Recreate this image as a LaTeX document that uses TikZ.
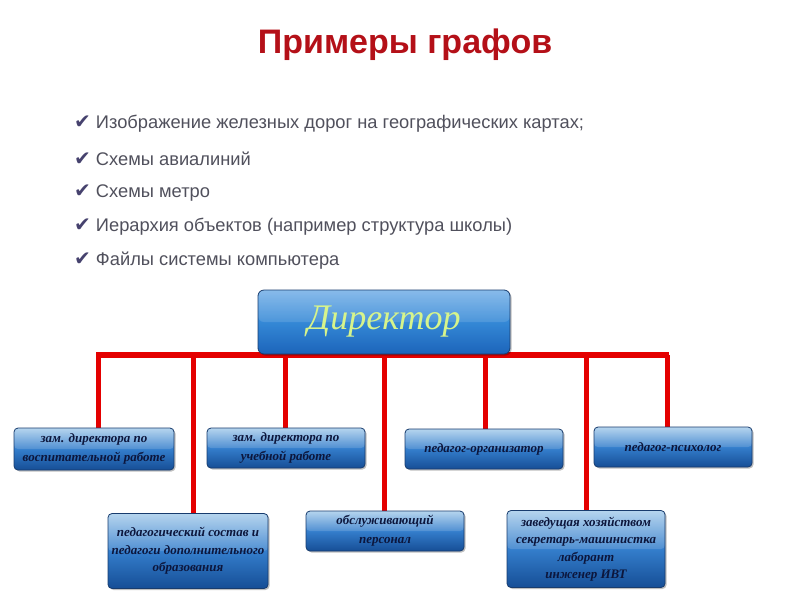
\documentclass[tikz,border=0pt]{standalone}
\usepackage{fontspec}
\setmainfont{Liberation Sans}
\newfontfamily\boxfont{Liberation Serif}
\newfontfamily\checkfont{DejaVu Sans}
\usetikzlibrary{shadows,backgrounds}
\definecolor{titlered}{RGB}{180,16,24}
\definecolor{listtext}{RGB}{80,80,92}
\definecolor{checkcol}{RGB}{70,66,110}
\definecolor{linered}{RGB}{228,0,0}
\definecolor{boxtop}{RGB}{170,206,236}
\definecolor{boxmid}{RGB}{52,126,204}
\definecolor{boxbot}{RGB}{22,78,150}
\definecolor{boxedge}{RGB}{24,60,110}
\definecolor{boxtext}{RGB}{12,22,60}
\definecolor{dirtop}{RGB}{120,178,232}
\definecolor{dirmid}{RGB}{52,136,214}
\definecolor{dirbot}{RGB}{28,100,186}
\definecolor{dirtext}{RGB}{214,244,140}
\tikzset{
  orgbox/.style={rounded corners=4pt, draw=boxedge, line width=0.8pt,
    top color=boxtop, bottom color=boxbot, middle color=boxmid,
    drop shadow={shadow xshift=1.5pt, shadow yshift=-1.5pt, fill=black, opacity=0.25},
    align=center, inner sep=0pt, text=boxtext,
    font=\boxfont\bfseries\itshape\fontsize{13}{19}\selectfont,
    path picture={\fill[white,opacity=0.14] (path picture bounding box.north west) rectangle (path picture bounding box.east);}},
  tallbox/.style={orgbox, font=\boxfont\bfseries\itshape\fontsize{13}{17.5}\selectfont},
  dirbox/.style={rounded corners=6pt, draw=boxedge, line width=0.8pt,
    top color=dirtop, bottom color=dirbot, middle color=dirmid,
    drop shadow={shadow xshift=1.5pt, shadow yshift=-1.5pt, fill=black, opacity=0.25},
    inner sep=0pt, text=dirtext, minimum width=252pt, minimum height=64pt,
    font=\boxfont\itshape\fontsize{36}{40}\selectfont,
    path picture={\fill[white,opacity=0.12] (path picture bounding box.north west) rectangle (path picture bounding box.east);}},
  redline/.style={draw=linered, line width=5pt},
  listitem/.style={anchor=west, inner sep=0pt, text=listtext, font=\fontsize{18.3}{20}\selectfont},
}
\newcommand{\chk}{{\checkfont\color{checkcol}\fontsize{20}{20}\selectfont ✔}\hspace{5pt}}
\begin{document}
\begin{tikzpicture}[x=1pt,y=-1pt]
\useasboundingbox (0,0) rectangle (800,600);

\node[font=\bfseries\fontsize{34}{36}\selectfont, text=titlered] (title) at (405,45) {Примеры графов};

\node[listitem] (l1) at (74,124) {\chk Изображение железных дорог на географических картах;};
\node[listitem] (l2) at (74,159) {\chk Схемы авиалиний};
\node[listitem] (l3) at (74,193) {\chk Схемы метро};
\node[listitem] (l4) at (74,227) {\chk Иерархия объектов (например структура школы)};
\node[listitem] (l5) at (74,261) {\chk Файлы системы компьютера};

\node[dirbox] (dir) at (384,322) {Директор};

\node[orgbox, minimum width=160pt, minimum height=42pt] (b1) at (94,449) {зам. директора по\\воспитательной работе};
\node[orgbox, minimum width=158pt, minimum height=40pt] (b2) at (286,448) {зам. директора по\\учебной работе};
\node[orgbox, minimum width=158pt, minimum height=40pt] (b3) at (484,449) {педагог-организатор};
\node[orgbox, minimum width=158pt, minimum height=40pt] (b4) at (673,447) {педагог-психолог};
\node[tallbox, minimum width=160pt, minimum height=75pt] (b5) at (188,551) {педагогический состав и\\педагоги дополнительного\\образования};
\node[orgbox, minimum width=158pt, minimum height=40pt] (b6) at (385,531) {обслуживающий\\персонал};
\node[tallbox, minimum width=158pt, minimum height=77pt] (b7) at (586,549) {заведущая хозяйством\\секретарь-машинистка\\лаборант\\инженер ИВТ};

\coordinate (bl) at (96,355);
\coordinate (br) at (669,355);
\coordinate (v1) at (98,355);
\coordinate (v2) at (193,355);
\coordinate (v3) at (285,355);
\coordinate (v4) at (384,355);
\coordinate (v5) at (485,355);
\coordinate (v6) at (586,355);
\coordinate (v7) at (667,355);

\begin{scope}[on background layer]
\draw[redline, line width=6pt] (bl) -- (br);
\draw[redline] (v1) -- (v1 |- b1.north);
\draw[redline] (v2) -- (v2 |- b5.north);
\draw[redline] (v3) -- (v3 |- b2.north);
\draw[redline] (v4) -- (v4 |- b6.north);
\draw[redline] (v5) -- (v5 |- b3.north);
\draw[redline] (v6) -- (v6 |- b7.north);
\draw[redline] (v7) -- (v7 |- b4.north);
\end{scope}
\end{tikzpicture}
\end{document}
